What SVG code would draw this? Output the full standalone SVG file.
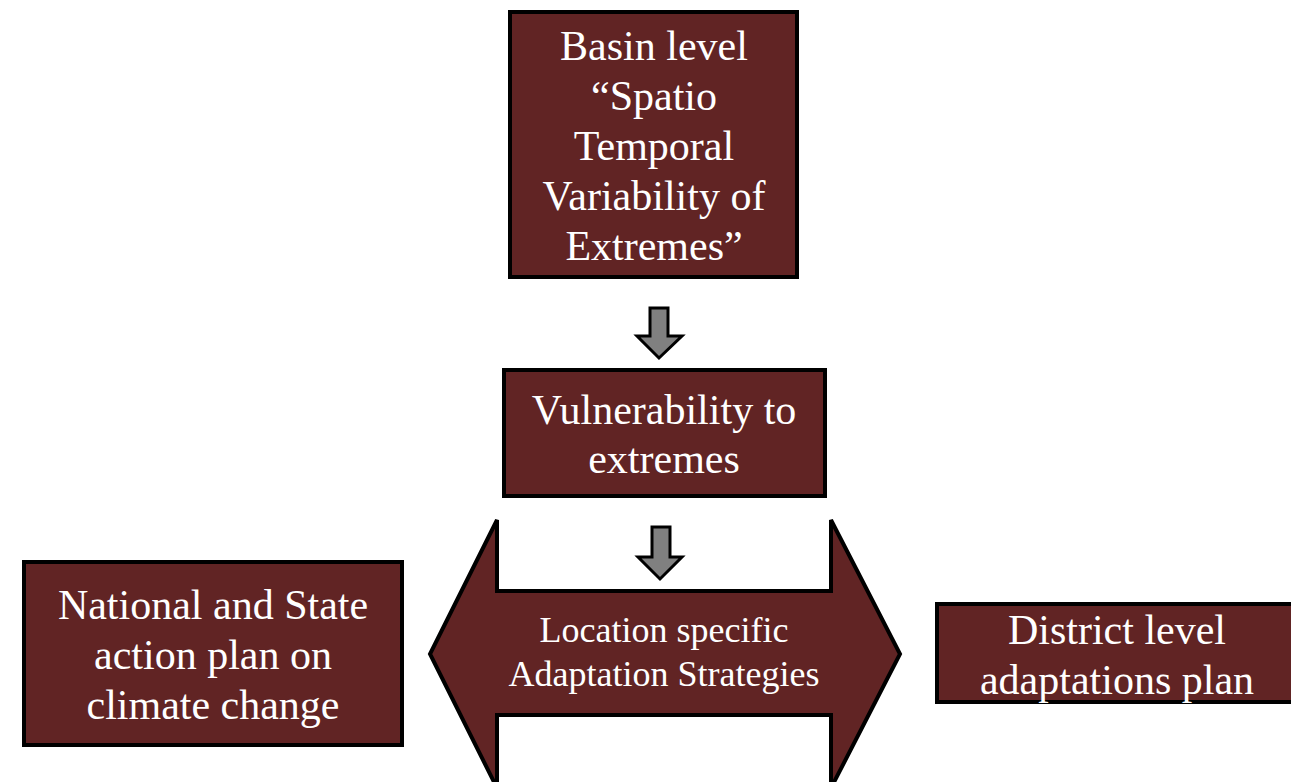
<svg xmlns="http://www.w3.org/2000/svg" width="1291" height="782" viewBox="0 0 1291 782">
<style>
.box{fill:#612424;stroke:#000;stroke-width:4}
.t{font-family:"Liberation Serif","Times New Roman",serif;fill:#fff;text-anchor:middle;font-size:42px}
.s{font-size:36px}
.dn{fill:#808080;stroke:#000;stroke-width:3;stroke-linejoin:miter}
</style>
<rect width="1291" height="782" fill="#fff"/>
<g id="connectors">
<path class="dn" d="M650 308 H668 V336 H682 L659 358 L637 336 H650 Z"/>
<path class="dn" d="M652 527 H670 V557 H682 L660 579 L638 557 H652 Z"/>
</g>
<g id="node-basin">
<rect class="box" x="510" y="12" width="287" height="265"/>
<text class="t" x="654" y="60">Basin level</text>
<text class="t" x="654" y="110">“Spatio</text>
<text class="t" x="654" y="160">Temporal</text>
<text class="t" x="654" y="210">Variability of</text>
<text class="t" x="654" y="260">Extremes”</text>
</g>
<g id="node-vulnerability">
<rect class="box" x="504" y="370" width="321" height="126"/>
<text class="t" x="664" y="424">Vulnerability to</text>
<text class="t" x="664" y="473">extremes</text>
</g>
<g id="node-location">
<path class="box" d="M497 520 V591 H831 V520 L900 654 L831 788 V715 H497 V788 L430 654 Z"/>
<text class="t s" x="664" y="642">Location specific</text>
<text class="t s" x="664" y="686">Adaptation Strategies</text>
</g>
<g id="node-national">
<rect class="box" x="24" y="562" width="378" height="183"/>
<text class="t" x="213" y="619">National and State</text>
<text class="t" x="213" y="669">action plan on</text>
<text class="t" x="213" y="719">climate change</text>
</g>
<g id="node-district">
<rect class="box" x="937" y="604" width="358" height="98"/>
<text class="t" x="1117" y="644">District level</text>
<text class="t" x="1117" y="694">adaptations plan</text>
</g>
</svg>
